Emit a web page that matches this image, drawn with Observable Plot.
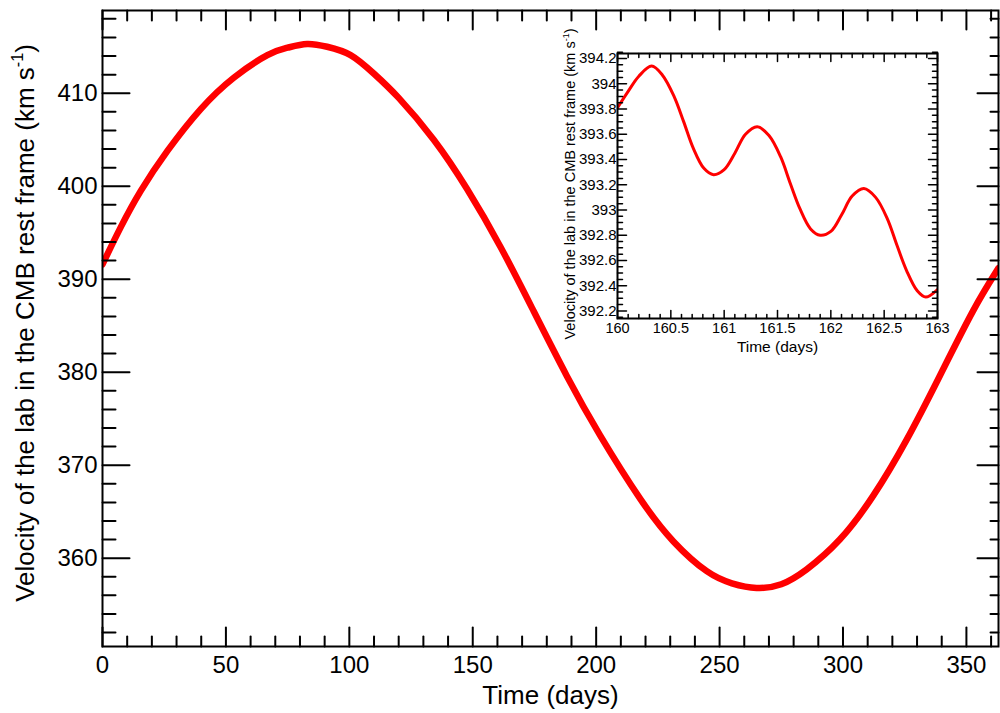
<!DOCTYPE html>
<html><head><meta charset="utf-8">
<script src="https://cdn.jsdelivr.net/npm/d3@7"></script>
<script src="https://cdn.jsdelivr.net/npm/@observablehq/plot@0.6"></script>
<style>
body{margin:0;background:#fff;}
#wrap{position:relative;width:1000px;height:713px;}
#inset{position:absolute;left:540px;top:22px;}
svg{overflow:visible;}
</style></head><body><div id="wrap"><div id="main"></div><div id="inset"></div></div>
<script>
// ---- Data ----
const mainDays = [0, 7.4, 15.5, 26.3, 39.8, 53.3, 66.8, 75, 82.9, 91, 100.5, 110, 120, 134.2, 147.7, 161.2, 174.6, 188.1, 201.6, 217.8, 231.3, 244.8, 255, 265, 275, 285.3, 298.7, 312.2, 325.7, 339.2, 352.7, 363];
const mainVelocity = [391.6, 395.6, 399.5, 403.8, 408.3, 411.7, 414.1, 414.9, 415.3, 415.0, 414.1, 412.1, 409.5, 405.0, 399.7, 393.5, 386.6, 379.6, 373.2, 366.4, 361.8, 358.6, 357.3, 356.8, 357.2, 358.8, 362.0, 366.7, 372.7, 379.6, 386.6, 391.2];

const insetDays = [160.0, 160.1, 160.2, 160.32, 160.42, 160.53, 160.62, 160.71, 160.81, 160.9, 161.0, 161.1, 161.2, 161.31, 161.42, 161.53, 161.62, 161.71, 161.81, 161.9, 162.0, 162.1, 162.2, 162.31, 162.42, 162.53, 162.62, 162.71, 162.81, 162.89, 163.0];
const insetVelocity = [393.81, 393.94, 394.06, 394.14, 394.07, 393.90, 393.70, 393.49, 393.33, 393.28, 393.32, 393.45, 393.60, 393.66, 393.59, 393.42, 393.21, 393.01, 392.85, 392.80, 392.83, 392.96, 393.11, 393.17, 393.10, 392.93, 392.72, 392.52, 392.36, 392.31, 392.37];

const mainXTicks = [0, 50, 100, 150, 200, 250, 300, 350];
const mainYTicks = [360, 370, 380, 390, 400, 410];
const insetXTicks = [160, 160.5, 161, 161.5, 162, 162.5, 163];
const insetXTickLabels = ["160", "160.5", "161", "161.5", "162", "162.5", "163"];
const insetYTicks = [392.2, 392.4, 392.6, 392.8, 393, 393.2, 393.4, 393.6, 393.8, 394, 394.2];
const insetYTickLabels = ["392.2", "392.4", "392.6", "392.8", "393", "393.2", "393.4", "393.6", "393.8", "394", "394.2"];
const yLabel = "Velocity of the lab in the CMB rest frame (km s-1)";
const xLabel = "Time (days)";

const FONT = '"Liberation Sans", Arial, Helvetica, sans-serif';
const mainData = mainDays.map((t, i) => ({t, v: mainVelocity[i]}));
const insetData = insetDays.map((t, i) => ({t, v: insetVelocity[i]}));

const lineShape = {draw(ctx, l) { ctx.moveTo(0, 0); ctx.lineTo(0, -l); }};
function tickMarks(values, dim, side, len, sw) {
  const rot = {bottom: 0, top: 180, left: 90, right: -90}[side];
  const o = {frameAnchor: side, rotate: rot, length: len, anchor: "start", shape: lineShape, stroke: "black", strokeWidth: sw};
  o[dim] = d => d;
  return Plot.vector(values, o);
}
function fixSup(svg, fs) {
  svg.querySelectorAll("text").forEach(t => {
    const s = t.textContent;
    if (s.endsWith("(km s-1)")) {
      while (t.firstChild) t.removeChild(t.firstChild);
      const ns = "http://www.w3.org/2000/svg";
      t.appendChild(document.createTextNode(s.slice(0, -3)));
      const sup = document.createElementNS(ns, "tspan");
      sup.setAttribute("dy", -0.42 * fs);
      sup.setAttribute("font-size", 0.62 * fs);
      sup.textContent = "-1";
      t.appendChild(sup);
      const cl = document.createElementNS(ns, "tspan");
      cl.setAttribute("dy", 0.42 * fs);
      cl.textContent = ")";
      t.appendChild(cl);
    }
  });
}

const xMinorMain = d3.range(0, 364, 10).filter(d => d % 50 !== 0);
const yMinorMain = d3.range(352, 419, 2).filter(d => d % 10 !== 0);

const main = Plot.plot({
  width: 1000, height: 713,
  marginLeft: 102, marginRight: 2, marginTop: 10, marginBottom: 67,
  style: {fontFamily: FONT, background: "white", color: "black"},
  x: {domain: [0, 363]},
  y: {domain: [350.5, 418.9]},
  marks: [
    Plot.line(mainData, {x: "t", y: "v", stroke: "#ff0000", strokeWidth: 6.5, curve: "natural", clip: true}),
    tickMarks(mainXTicks, "x", "bottom", 19, 2),
    tickMarks(xMinorMain, "x", "bottom", 10, 2),
    tickMarks(mainXTicks, "x", "top", 19, 2),
    tickMarks(xMinorMain, "x", "top", 10, 2),
    tickMarks(mainYTicks, "y", "left", 27, 2),
    tickMarks(yMinorMain, "y", "left", 13, 2),
    tickMarks(mainYTicks, "y", "right", 21, 2),
    tickMarks(yMinorMain, "y", "right", 8, 2),
    Plot.frame({stroke: "black", strokeWidth: 2}),
    Plot.axisX(mainXTicks, {tickSize: 0, tickPadding: 9, fontSize: 24, label: null, tickFormat: d => String(d)}),
    Plot.axisY(mainYTicks, {tickSize: 0, tickPadding: 5, fontSize: 24, label: null, tickFormat: d => String(d)}),
    Plot.text([xLabel], {text: d => d, frameAnchor: "bottom", textAnchor: "middle", lineAnchor: "middle", dy: 49, fontSize: 26, fill: "black"}),
    Plot.text([yLabel], {text: d => d, frameAnchor: "left", textAnchor: "middle", lineAnchor: "middle", rotate: -90, dx: -77, dy: -5.5, fontSize: 26, fill: "black"})
  ]
});
fixSup(main, 26);
document.getElementById("main").appendChild(main);

const xMinorInset = d3.range(160, 163.001, 0.1).map(d => +d.toFixed(2)).filter(d => Math.abs(d * 2 - Math.round(d * 2)) > 1e-6);
const yMinorInset = d3.range(392.15, 394.25, 0.05).map(d => +d.toFixed(2)).filter(d => Math.abs(d * 5 - Math.round(d * 5)) > 1e-6);

const inset = Plot.plot({
  width: 407, height: 336,
  marginLeft: 77, marginRight: 10, marginTop: 31, marginBottom: 40,
  style: {fontFamily: FONT, background: "transparent", color: "black"},
  x: {domain: [160, 163]},
  y: {domain: [392.14, 394.24]},
  marks: [
    Plot.line(insetData, {x: "t", y: "v", stroke: "#ff0000", strokeWidth: 3, curve: "catmull-rom", clip: true}),
    tickMarks(insetXTicks, "x", "bottom", 8, 1.5),
    tickMarks(xMinorInset, "x", "bottom", 4, 1.5),
    tickMarks(insetXTicks, "x", "top", 8, 1.5),
    tickMarks(xMinorInset, "x", "top", 4, 1.5),
    tickMarks(insetYTicks, "y", "left", 9, 1.5),
    tickMarks(yMinorInset, "y", "left", 5, 1.5),
    tickMarks(insetYTicks, "y", "right", 9, 1.5),
    tickMarks(yMinorInset, "y", "right", 5, 1.5),
    Plot.frame({stroke: "black", strokeWidth: 2}),
    Plot.axisX(insetXTicks, {tickSize: 0, tickPadding: 4, fontSize: 14.5, label: null, tickFormat: (d, i) => insetXTickLabels[i]}),
    Plot.axisY(insetYTicks, {tickSize: 0, tickPadding: 1, fontSize: 15, label: null, tickFormat: (d, i) => insetYTickLabels[i]}),
    Plot.text([xLabel], {text: d => d, frameAnchor: "bottom", textAnchor: "middle", lineAnchor: "middle", dy: 29, fontSize: 15.5, fill: "black"}),
    Plot.text([yLabel], {text: d => d, frameAnchor: "left", textAnchor: "middle", lineAnchor: "middle", rotate: -90, dx: -47, dy: -2, fontSize: 14.5, fill: "black"})
  ]
});
fixSup(inset, 14.5);
document.getElementById("inset").appendChild(inset);
</script></body></html>
